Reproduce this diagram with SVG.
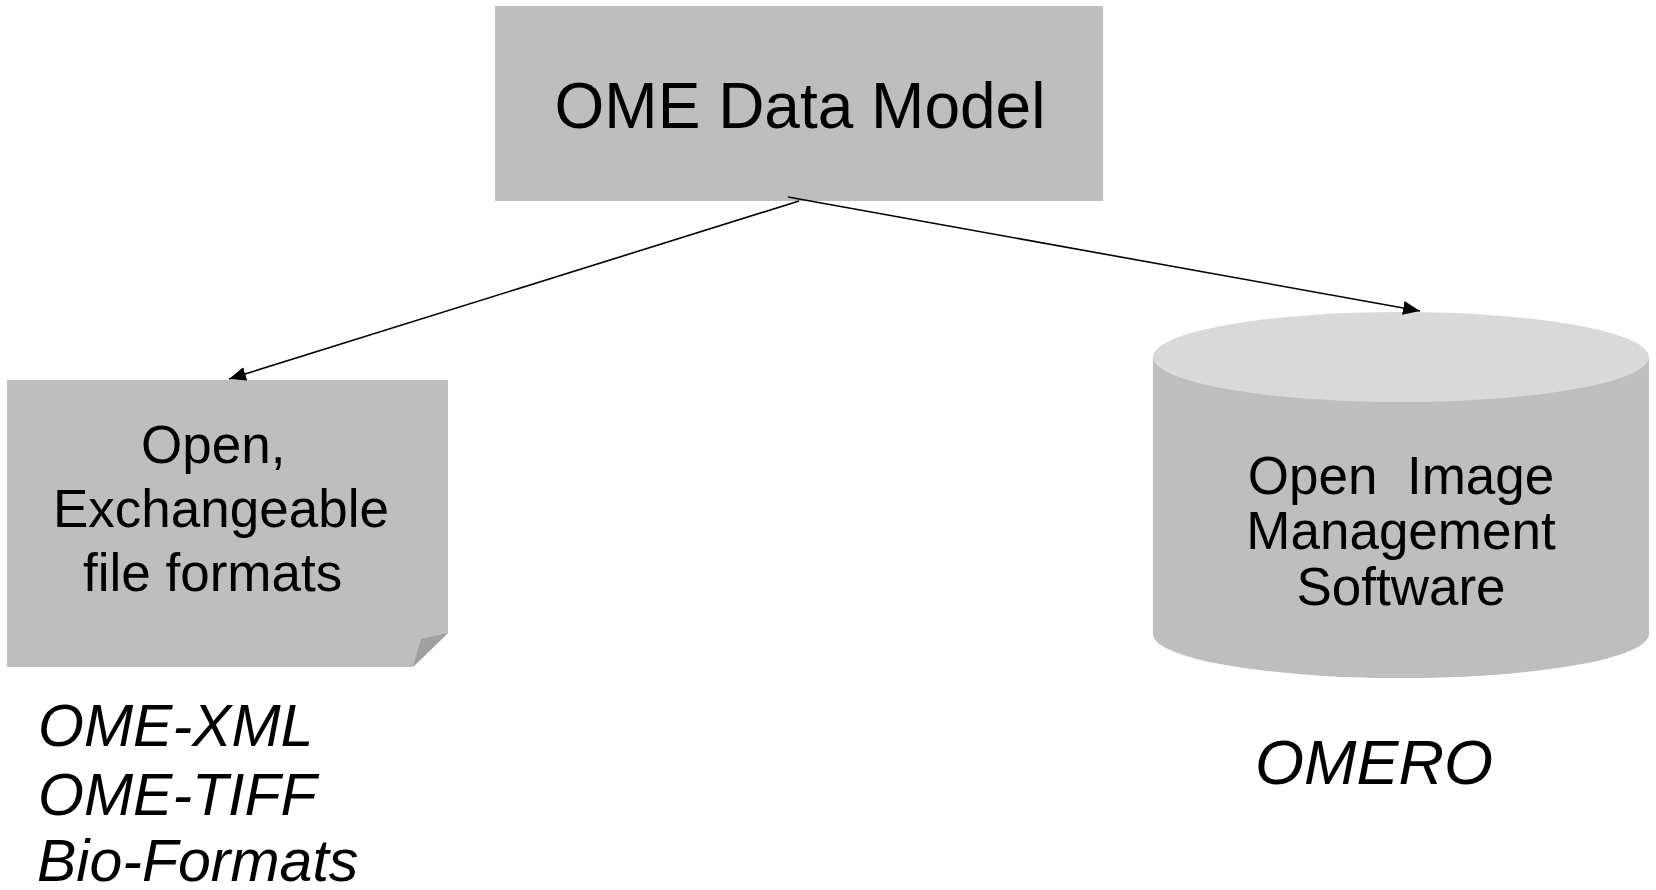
<svg xmlns="http://www.w3.org/2000/svg" width="1656" height="890" viewBox="0 0 1656 890">
<style>
.t{font-family:"Liberation Sans",Arial,sans-serif;fill:#000}
.i{font-family:"Liberation Sans",Arial,sans-serif;font-style:italic;fill:#000}
.box{fill:#bebebe}
.conn{stroke:#000;stroke-width:1.6;fill:none}
</style>
<defs>
<marker id="arr" markerUnits="userSpaceOnUse" markerWidth="18" markerHeight="14" refX="17" refY="7" orient="auto">
<path d="M0,0 L17,7 L0,14 z" fill="#000"/>
</marker>
</defs>
<rect width="1656" height="890" fill="#fff"/>
<g id="ome-data-model">
<rect class="box" x="495" y="6" width="608" height="195"/>
<text class="t" x="800" y="128" font-size="64" text-anchor="middle">OME Data Model</text>
</g>
<g id="file-formats">
<path class="box" d="M7,380 L448,380 L448,633 L413,667 L7,667 Z"/>
<path d="M448,633 L421,639 L413,667 Z" fill="#a0a0a0"/>
<text class="t" font-size="53"><tspan x="141" y="463">Open,</tspan><tspan x="53" y="527">Exchangeable</tspan><tspan x="83" y="591">file formats</tspan></text>
</g>
<g id="omero-db">
<path class="box" d="M1153,357 L1153,634 A248,44 0 0 0 1649,634 L1649,357 Z"/>
<ellipse cx="1401" cy="357" rx="248" ry="45" fill="#d9d9d9"/>
<text class="t" font-size="53" text-anchor="middle" xml:space="preserve"><tspan x="1401" y="494">Open  Image</tspan><tspan x="1401" y="549">Management</tspan><tspan x="1401" y="605">Software</tspan></text>
</g>
<g id="labels">
<text class="i" font-size="59"><tspan x="38" y="746">OME-XML</tspan><tspan x="38" y="815">OME-TIFF</tspan><tspan x="37" y="881">Bio-Formats</tspan></text>
<text class="i" x="1255" y="784" font-size="63">OMERO</text>
</g>
<g id="connectors">
<line class="conn" x1="799" y1="201" x2="229" y2="379" marker-end="url(#arr)"/>
<line class="conn" x1="788" y1="197" x2="1420" y2="311" marker-end="url(#arr)"/>
</g>
</svg>
